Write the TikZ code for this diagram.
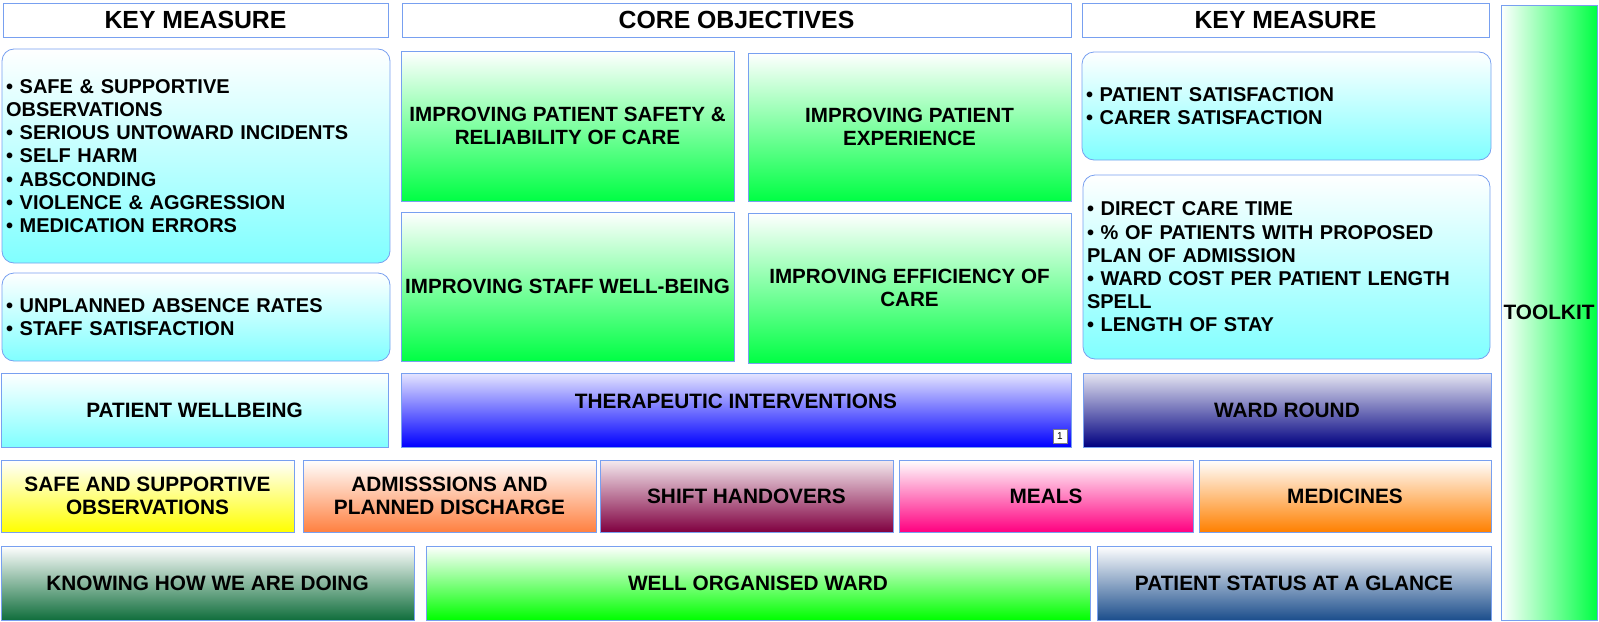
\documentclass[tikz,border=0pt]{standalone}
\usepackage{fontspec}
\setmainfont{Liberation Sans}
\usepackage{tikz}
\usepackage{xcolor}

\definecolor{edgeblue}{RGB}{120,160,240}
\definecolor{meascyan}{RGB}{128,255,255}
\definecolor{objgreen}{RGB}{0,255,68}
\definecolor{orggreen}{RGB}{0,255,0}
\definecolor{knowgreen}{RGB}{16,110,60}
\definecolor{glanceblue}{RGB}{28,78,140}
\definecolor{wardnavy}{RGB}{0,0,128}
\definecolor{therablue}{RGB}{0,0,255}
\definecolor{shiftmaroon}{RGB}{128,0,64}
\definecolor{mealpink}{RGB}{255,0,128}
\definecolor{medorange}{RGB}{255,128,0}
\definecolor{admsalmon}{RGB}{255,128,64}
\definecolor{obsyellow}{RGB}{255,255,0}

\begin{document}
\begin{tikzpicture}[x=0.5pt, y=-0.5pt,
headnode/.style={rectangle, draw=edgeblue, fill=white, inner sep=0pt, font=\fontsize{12.4}{14}\selectfont\bfseries},
measnode/.style={rectangle, rounded corners=6pt, draw=edgeblue, top color=white, bottom color=meascyan, align=left, inner xsep=2pt, inner ysep=0pt, font=\fontsize{10}{11.6}\selectfont\bfseries},
objnode/.style={rectangle, draw=edgeblue, top color=white, bottom color=objgreen, align=center, inner sep=0pt, font=\fontsize{10.3}{11.7}\selectfont\bfseries},
tilenode/.style={rectangle, draw=edgeblue, align=center, inner sep=0pt, font=\fontsize{10.4}{11.4}\selectfont\bfseries},
]
\useasboundingbox (0,0) rectangle (1599,621);

%Headers
\node[headnode, minimum width=192.5pt, minimum height=17pt] at (195.5,20) (kmLeft) {KEY MEASURE};
\node[headnode, minimum width=334.5pt, minimum height=17pt] at (736.5,20) (coreHead) {CORE OBJECTIVES};
\node[headnode, minimum width=203.5pt, minimum height=17pt] at (1285.5,20) (kmRight) {KEY MEASURE};

%Key measures
\node[measnode, text width=190pt, minimum height=107pt] at (196,156) (measSafety) {• SAFE \& SUPPORTIVE\\OBSERVATIONS\\• SERIOUS UNTOWARD INCIDENTS\\• SELF HARM\\• ABSCONDING\\• VIOLENCE \& AGGRESSION\\• MEDICATION ERRORS};
\node[measnode, text width=190pt, minimum height=44pt] at (196,317) (measStaff) {• UNPLANNED ABSENCE RATES\\• STAFF SATISFACTION};
\node[measnode, text width=200.5pt, minimum height=54pt] at (1286.5,106) (measExperience) {• PATIENT SATISFACTION\\• CARER SATISFACTION};
\node[measnode, text width=199.5pt, minimum height=92pt] at (1286.5,267) (measEfficiency) {• DIRECT CARE TIME\\• \% OF PATIENTS WITH PROPOSED\\PLAN OF ADMISSION\\\mbox{• WARD COST PER PATIENT LENGTH}\\SPELL\\• LENGTH OF STAY};

%Core objectives
\node[objnode, minimum width=166.5pt, minimum height=75pt] at (567.5,126) (objSafety) {IMPROVING PATIENT SAFETY \&\\RELIABILITY OF CARE};
\node[objnode, minimum width=161.5pt, minimum height=74pt] at (909.5,127) (objExperience) {IMPROVING PATIENT\\EXPERIENCE};
\node[objnode, minimum width=166.5pt, minimum height=74.5pt] at (567.5,286.5) (objStaff) {IMPROVING STAFF WELL-BEING};
\node[objnode, minimum width=161.5pt, minimum height=75pt] at (909.5,288) (objEfficiency) {IMPROVING EFFICIENCY OF\\CARE};

%Toolkit
\node[tilenode, left color=white, right color=objgreen, minimum width=48pt, minimum height=307.5pt] at (1549,312.5) (toolkit) {TOOLKIT};

%Row 3
\node[tilenode, top color=white, bottom color=meascyan, minimum width=193.5pt, minimum height=37pt] at (194.5,410) (wellbeing) {PATIENT WELLBEING};
\node[tilenode, top color=therablue!10, bottom color=therablue, minimum width=335pt, minimum height=37pt, text depth=9pt] at (736,410) (therapeutic) {THERAPEUTIC INTERVENTIONS};
\node[draw=gray, fill=white, inner sep=0pt, minimum size=7pt, font=\fontsize{5}{5}\selectfont] at (1060,436.5) (noteOne) {1};
\node[tilenode, top color=wardnavy!10, bottom color=wardnavy, minimum width=204pt, minimum height=37pt] at (1287,410) (wardRound) {WARD ROUND};

%Row 4
\node[tilenode, top color=white, bottom color=obsyellow, minimum width=146.5pt, minimum height=36pt] at (147.5,496) (observations) {SAFE AND SUPPORTIVE\\OBSERVATIONS};
\node[tilenode, top color=white, bottom color=admsalmon, minimum width=146.5pt, minimum height=36pt] at (449.5,496) (admissions) {ADMISSSIONS AND\\PLANNED DISCHARGE};
\node[tilenode, top color=shiftmaroon!8, bottom color=shiftmaroon, minimum width=146.5pt, minimum height=36pt] at (746.5,496) (handovers) {SHIFT HANDOVERS};
\node[tilenode, top color=white, bottom color=mealpink, minimum width=147pt, minimum height=36pt] at (1046,496) (meals) {MEALS};
\node[tilenode, top color=white, bottom color=medorange, minimum width=146pt, minimum height=36pt] at (1345,496) (medicines) {MEDICINES};

%Row 5
\node[tilenode, top color=white, bottom color=knowgreen, minimum width=206.5pt, minimum height=37pt] at (207.5,583) (knowing) {KNOWING HOW WE ARE DOING};
\node[tilenode, top color=white, bottom color=orggreen, minimum width=332pt, minimum height=37pt] at (758,583) (organised) {WELL ORGANISED WARD};
\node[tilenode, top color=white, bottom color=glanceblue, minimum width=197pt, minimum height=37pt] at (1294,583) (glance) {PATIENT STATUS AT A GLANCE};

\end{tikzpicture}
\end{document}
